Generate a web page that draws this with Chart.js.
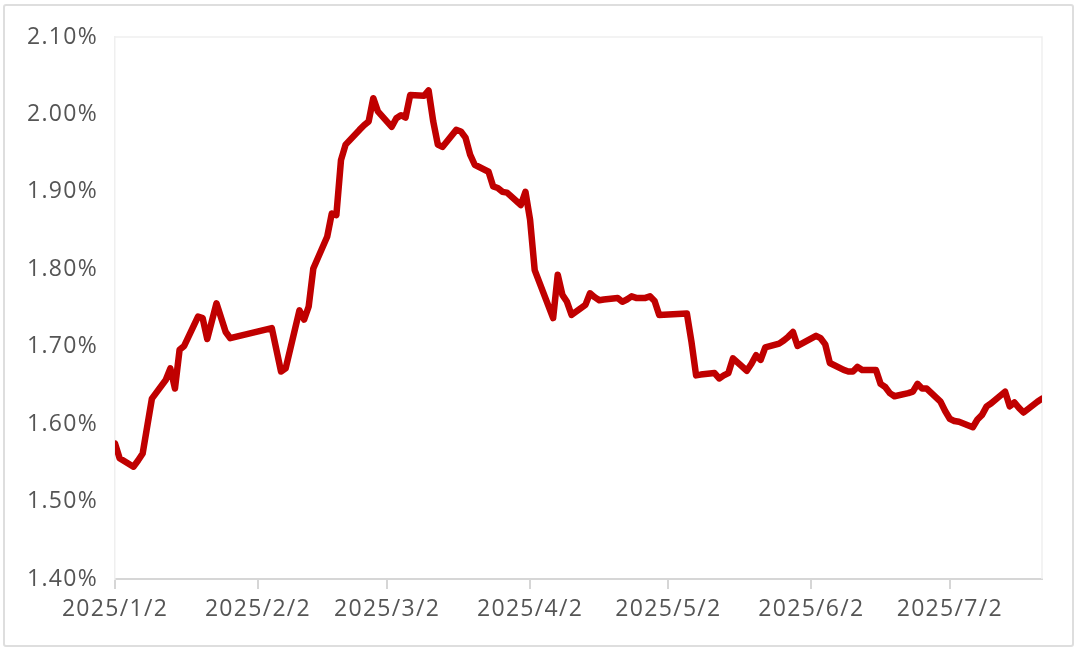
<!DOCTYPE html>
<html>
<head>
<meta charset="utf-8">
<script src="https://cdn.jsdelivr.net/npm/chart.js@4/dist/chart.umd.min.js"></script>
<style>
  body { margin: 0; background: #fff; }
  #wrap { position: relative; width: 1080px; height: 653px; }
  #frame { position: absolute; left: 3px; top: 4px; width: 1067px; height: 639px;
           border: 2px solid #dedede; border-radius: 3px; pointer-events: none; }
  canvas { position: absolute; left: 0; top: 0; }
</style>
</head>
<body>
<div id="wrap">
  <canvas id="myChart" width="1080" height="653"></canvas>
  <div id="frame"></div>
</div>
<script>
// trading days (2025) and yield in %
var dates = ["1/2","1/3","1/6","1/7","1/8","1/10","1/13","1/14","1/15","1/16","1/17","1/20","1/21","1/22","1/24","1/26","1/27",
  "2/5","2/7","2/8","2/11","2/12","2/13","2/14","2/17","2/18","2/19","2/20","2/21","2/24","2/25","2/26","2/27","2/28",
  "3/3","3/4","3/5","3/6","3/7","3/10","3/11","3/12","3/13","3/14","3/17","3/18","3/19","3/20","3/21","3/24","3/25","3/26","3/27","3/28","3/31",
  "4/1","4/2","4/3","4/7","4/8","4/9","4/10","4/11","4/14","4/15","4/16","4/17","4/18","4/21","4/22","4/23","4/24","4/25","4/27","4/28","4/29","4/30",
  "5/6","5/7","5/8","5/9","5/12","5/13","5/14","5/15","5/16","5/19","5/20","5/21","5/22","5/23","5/26","5/27","5/28","5/29","5/30",
  "6/3","6/4","6/5","6/6","6/9","6/10","6/11","6/12","6/13","6/16","6/17","6/18","6/19","6/20","6/23","6/24","6/25","6/26","6/27","6/30",
  "7/1","7/2","7/3","7/4","7/7","7/8","7/9","7/10","7/11","7/14","7/15","7/16","7/17","7/18","7/21","7/22"]
var yields = [1.575,1.556,1.545,1.553,1.562,1.633,1.657,1.672,1.646,1.696,1.701,1.739,1.737,1.710,1.756,1.719,1.711,
  1.724,1.668,1.672,1.747,1.735,1.752,1.801,1.842,1.872,1.870,1.941,1.961,1.980,1.986,1.991,2.021,2.004,
  1.984,1.995,1.999,1.996,2.025,2.024,2.031,1.991,1.961,1.958,1.980,1.978,1.970,1.948,1.935,1.926,1.907,1.905,1.900,1.899,1.883,
  1.900,1.864,1.799,1.737,1.793,1.767,1.758,1.741,1.754,1.769,1.764,1.760,1.761,1.763,1.758,1.761,1.765,1.763,1.763,1.765,1.759,1.741,
  1.743,1.706,1.663,1.664,1.666,1.659,1.663,1.666,1.685,1.669,1.678,1.689,1.683,1.699,1.704,1.708,1.713,1.719,1.701,
  1.714,1.711,1.703,1.679,1.670,1.668,1.668,1.674,1.670,1.670,1.652,1.648,1.640,1.636,1.640,1.642,1.652,1.646,1.646,1.629,
  1.617,1.607,1.604,1.603,1.596,1.606,1.612,1.623,1.627,1.642,1.623,1.628,1.621,1.615,1.629,1.633]

var xTickDates = ["1/2","2/2","3/2","4/2","5/2","6/2","7/2"]
var xEnd = "7/22"
var yTicks = [1.40,1.50,1.60,1.70,1.80,1.90,2.00,2.10]

function dayOf(md){
    var p = md.split("/")
    return (Date.UTC(2025, +p[0]-1, +p[1]) - Date.UTC(2025,0,2)) / 86400000
}

var punti = []
for(var i=0;i<dates.length;i++){
    punti.push({x: dayOf(dates[i]), y: yields[i]})
}

var fontFamily = "'Open Sans', 'Liberation Sans', sans-serif"

// spacing of the axis text + faint plot frame
var extraPlugin = {
    id: 'extra',
    beforeDraw: function(chart){
        chart.ctx.letterSpacing = '1.3px'
    },
    beforeDatasetsDraw: function(chart){
        var a = chart.chartArea, ctx = chart.ctx
        ctx.save()
        ctx.strokeStyle = '#efefef'
        ctx.lineWidth = 1.5
        ctx.beginPath()
        ctx.moveTo(a.left, a.top)
        ctx.lineTo(a.right, a.top)
        ctx.lineTo(a.right, a.bottom)
        ctx.stroke()
        ctx.restore()
    }
}

var ctx = document.getElementById('myChart').getContext('2d')
var myChart = new Chart(ctx, {
    type: 'line',
    data: {
        datasets: [{
            data: punti,
            borderColor: '#c00000',
            borderWidth: 6.5,
            pointRadius: 0,
            tension: 0,
            borderJoinStyle: 'round',
            borderCapStyle: 'round'
        }]
    },
    options: {
        responsive: false,
        animation: false,
        devicePixelRatio: 1,
        layout: { padding: { top: 37, right: 38, left: 0, bottom: 0 } },
        plugins: { legend: { display: false }, tooltip: { enabled: false } },
        scales: {
            x: {
                type: 'linear',
                min: 0,
                max: dayOf(xEnd),
                afterFit: function(s){ s.height = 74 },
                afterBuildTicks: function(s){
                    s.ticks = xTickDates.map(function(d){ return {value: dayOf(d)} })
                },
                ticks: {
                    autoSkip: false,
                    maxRotation: 0,
                    padding: 7,
                    color: '#555555',
                    font: { family: fontFamily, size: 23 },
                    callback: function(v, i){ return '2025/' + xTickDates[i] }
                },
                grid: { drawOnChartArea: false, color: '#d6d6d6', lineWidth: 2, tickLength: 10 },
                border: { color: '#d6d6d6', width: 2 }
            },
            y: {
                min: 1.4,
                max: 2.1,
                afterFit: function(s){ s.width = 115 },
                afterBuildTicks: function(s){
                    s.ticks = yTicks.map(function(v){ return {value: v} })
                },
                ticks: {
                    padding: 17,
                    color: '#555555',
                    font: { family: fontFamily, size: 23 },
                    callback: function(v){ return v.toFixed(2) + '%' }
                },
                grid: { display: false, drawTicks: false },
                border: { color: '#efefef', width: 1.5 }
            }
        }
    },
    plugins: [extraPlugin]
})
</script>
</body>
</html>
